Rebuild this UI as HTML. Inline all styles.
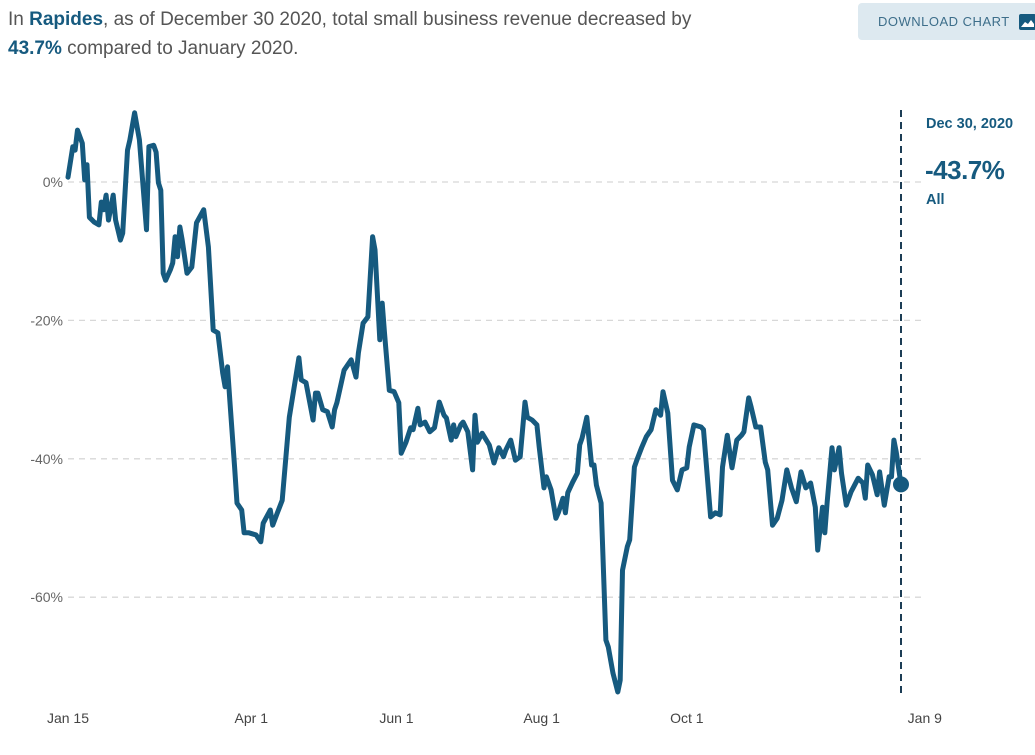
<!DOCTYPE html>
<html><head><meta charset="utf-8"><style>
body{margin:0;width:1035px;height:755px;background:#fff;font-family:"Liberation Sans",sans-serif;overflow:hidden;position:relative}
#title{position:absolute;left:8px;top:5px;font-size:19px;line-height:29px;color:#555;width:840px;white-space:nowrap}
#title b{color:#165a7f}
#dl{position:absolute;left:858px;top:3px;width:190px;height:37px;background:#dde9f0;border-radius:4px;color:#3d6e8a;font-size:13px;letter-spacing:0.5px;line-height:37px;padding-left:20px;box-sizing:border-box}
#dl svg{position:absolute;left:161px;top:11px}
</style></head><body>
<div id="title">In <b>Rapides</b>, as of December 30 2020, total small business revenue decreased by<br><b>43.7%</b> compared to January 2020.</div>
<div id="dl">DOWNLOAD CHART<svg width="17" height="16"><rect width="17" height="16" rx="2" fill="#165a7f"/><path d="M2 13 L6 8 L9 10 L12 6 L15 10 L15 13 Z" fill="#fff"/></svg></div>
<svg id="chart" width="1035" height="755" style="position:absolute;left:0;top:0"></svg>
<script>
const days=[0,2,3,4,6,7,8,9,11,13,14,15,16,17,19,20,22,23,25,26,28,30,33,34,36,37,38,39,40,41,43,44,45,46,47,48,50,52,54,57,59,61,63,65,66,67,68,70,71,73,74,76,79,81,82,85,86,88,90,93,97,98,100,103,104,105,107,109,111,112,113,116,118,119,121,122,124,126,128,129,131,132,133,135,137,139,140,142,144,145,147,148,150,152,154,156,158,159,161,162,163,165,166,168,170,171,172,174,177,179,181,183,184,186,188,190,192,193,195,197,198,200,201,203,205,206,208,209,210,212,214,215,216,218,220,221,222,224,226,227,229,231,232,233,235,236,238,239,241,243,245,247,249,250,252,254,256,258,260,261,263,266,267,270,272,274,275,277,279,281,283,284,286,287,289,291,293,294,296,298,300,302,304,306,308,310,312,314,315,317,318,319,321,322,324,325,327,329,332,334,335,336,338,340,341,343,345,346,347,348,350];
const values=[0.7,5.1,4.6,7.5,5.6,0.3,2.5,-5.1,-5.8,-6.2,-2.9,-4.0,-1.9,-5.5,-1.9,-5.5,-8.4,-7.4,4.6,6.1,10.0,6.1,-6.9,5.1,5.3,4.3,-0.1,-1.2,-13.2,-14.2,-12.7,-11.7,-7.9,-10.8,-6.5,-8.4,-13.2,-12.3,-5.9,-4.0,-9.4,-21.4,-21.8,-27.6,-29.6,-26.7,-31.5,-41.2,-46.4,-47.4,-50.7,-50.7,-51.0,-52.0,-49.3,-47.4,-49.6,-47.8,-46.0,-34.0,-25.4,-28.6,-29.0,-34.4,-30.5,-30.5,-32.9,-33.2,-35.4,-32.9,-31.9,-27.2,-26.2,-25.7,-28.2,-24.7,-20.4,-19.5,-7.9,-9.8,-22.8,-17.5,-21.8,-30.1,-30.3,-31.9,-39.2,-37.6,-35.5,-35.8,-32.7,-35.1,-34.7,-36.1,-35.5,-31.8,-33.7,-34.1,-37.3,-35.1,-36.8,-35.1,-34.7,-36.1,-41.6,-33.7,-37.6,-36.3,-38.0,-40.6,-38.4,-39.7,-38.7,-37.3,-40.2,-39.7,-31.8,-34.0,-34.4,-35.1,-38.3,-44.2,-42.6,-44.5,-48.6,-47.8,-45.7,-47.8,-44.9,-43.4,-42.1,-38.0,-37.0,-34.0,-40.9,-40.9,-43.8,-46.4,-66.2,-67.2,-71.0,-73.7,-72.0,-56.1,-52.7,-51.7,-41.2,-40.2,-38.4,-36.8,-35.8,-32.9,-33.7,-30.3,-33.4,-43.1,-44.5,-41.6,-41.3,-38.3,-35.1,-35.4,-35.8,-48.4,-47.8,-48.1,-41.2,-36.6,-41.3,-37.3,-36.6,-36.1,-31.2,-32.5,-35.4,-35.4,-40.5,-41.6,-49.6,-48.6,-46.0,-41.6,-44.2,-46.2,-41.9,-44.2,-43.5,-47.0,-53.2,-47.0,-50.7,-46.2,-38.4,-41.6,-38.4,-42.1,-46.7,-44.8,-42.8,-43.5,-45.7,-40.9,-42.3,-45.2,-41.9,-46.7,-42.6,-42.6,-37.3,-39.0,-43.7];
const yTicks=[0,-20,-40,-60];
const yTickLabels=["0%","-20%","-40%","-60%"];
const xTickDays=[0,77,138,199,260,360];
const xTickLabels=["Jan 15","Apr 1","Jun 1","Aug 1","Oct 1","Jan 9"];
const xs=d=>68+d*2.38, ys=v=>182-v*6.92;
const NS="http://www.w3.org/2000/svg", svg=document.getElementById('chart');
function mk(t,a){const e=document.createElementNS(NS,t);for(const k in a)e.setAttribute(k,a[k]);svg.appendChild(e);return e;}
yTicks.forEach((v,i)=>{
 const g=mk('line',{x1:68,x2:926,y1:ys(v),y2:ys(v),stroke:'#d8d8d8','stroke-width':1.3,'stroke-dasharray':'6,5'});
 
 
 const t=mk('text',{x:63,y:ys(v)+5,'text-anchor':'end','font-size':14,fill:'#666'});
 t.textContent=yTickLabels[i];
 
 
});
xTickDays.forEach((d,i)=>{
 const t=mk('text',{x:xs(d),y:723,'text-anchor':'middle','font-size':14,fill:'#444'});
 t.textContent=xTickLabels[i];
 
 
});
const last=days.length-1;
const vl=mk('line',{x1:xs(days[last]),x2:xs(days[last]),y1:110,y2:698,stroke:'#1c3d55','stroke-width':2,'stroke-dasharray':'7,5'});


const p=mk('path',{d:days.map((d,i)=>(i?'L':'M')+xs(d).toFixed(1)+','+ys(values[i]).toFixed(1)).join(''),fill:'none',stroke:'#165a7f','stroke-width':5,'stroke-linejoin':'round','stroke-linecap':'round'});


const c=mk('circle',{cx:xs(days[last]),cy:ys(values[last]),r:8,fill:'#165a7f'});


const l1=mk('text',{x:926,y:128,'font-size':14.5,'font-weight':'bold',fill:'#165a7f'});l1.textContent='Dec 30, 2020';


const l2=mk('text',{x:925,y:179,'font-size':26,'font-weight':'bold',fill:'#165a7f','letter-spacing':'-0.5'});l2.textContent=values[last].toFixed(1)+'%';


const l3=mk('text',{x:926,y:204,'font-size':14.5,'font-weight':'bold',fill:'#165a7f'});l3.textContent='All';


</script>
</body></html>
